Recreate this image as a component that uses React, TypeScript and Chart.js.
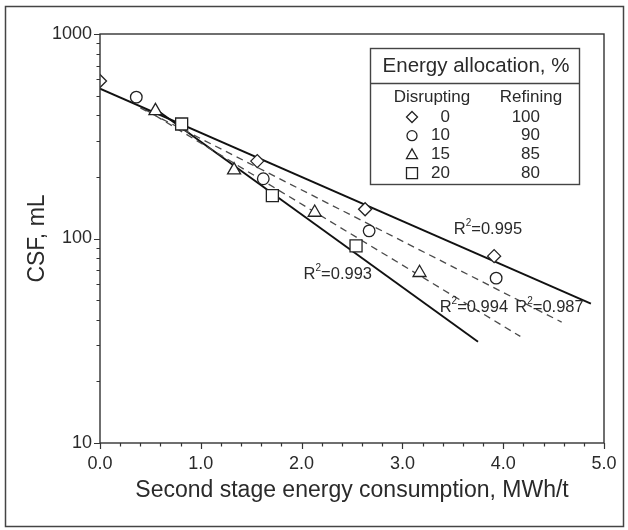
import React, { useEffect, useRef } from 'react';
import { Chart, registerables } from 'chart.js';

Chart.register(...registerables);

// ---- data ----
const disruptingLabels = ['0', '10', '15', '20'];
const refiningLabels = ['100', '90', '85', '80'];
const markerStyles = ['rectRot', 'circle', 'triangle', 'rect'];
const markerRadii = [6.5, 5.8, 7.5, 8.5];

const x0 = [0.0, 1.56, 2.63, 3.91];
const y0 = [589, 239, 139, 82];
const x10 = [0.36, 1.62, 2.67, 3.93];
const y10 = [491, 196, 109, 64];
const x15 = [0.55, 1.33, 2.13, 3.17];
const y15 = [421, 216, 134, 68];
const x20 = [0.81, 1.71, 2.54];
const y20 = [363, 162, 92];

// regression lines (end points)
const fit0X = [0.0, 4.87];
const fit0Y = [540, 48];
const fit10X = [0.4, 4.58];
const fit10Y = [435, 39];
const fit15X = [0.45, 4.17];
const fit15Y = [427, 33.2];
const fit20X = [0.55, 3.75];
const fit20Y = [430, 31.3];

// R² annotations: [x (left edge), y (middle), text]
const r2X = [3.51, 2.02, 3.37, 4.12];
const r2Y = [111, 67, 46, 46];
const r2Text = ['0.995', '0.993', '0.994', '0.987'];

const xTickValues = [0, 1, 2, 3, 4, 5];
const yTickValues = [10, 100, 1000];

const FONT = "'Liberation Sans', Arial, Helvetica, sans-serif";
const TEXT = '#2a2a2a';

const zip = (xs: number[], ys: number[]) => xs.map((x, i) => ({ x, y: ys[i] }));

function drawMarker(ctx: CanvasRenderingContext2D, style: string, x: number, y: number, r: number) {
  ctx.save();
  ctx.strokeStyle = '#222';
  ctx.lineWidth = 1.3;
  ctx.beginPath();
  if (style === 'rectRot') {
    ctx.moveTo(x, y - r);
    ctx.lineTo(x + r, y);
    ctx.lineTo(x, y + r);
    ctx.lineTo(x - r, y);
    ctx.closePath();
  } else if (style === 'circle') {
    ctx.arc(x, y, r - 0.5, 0, Math.PI * 2);
  } else if (style === 'triangle') {
    ctx.moveTo(x, y - r);
    ctx.lineTo(x + r, y + r * 0.75);
    ctx.lineTo(x - r, y + r * 0.75);
    ctx.closePath();
  } else {
    ctx.rect(x - r, y - r, 2 * r, 2 * r);
  }
  ctx.stroke();
  ctx.restore();
}

const frameAndTicks = {
  id: 'frameAndTicks',
  beforeDraw(chart: any) {
    const { ctx, width, height } = chart;
    ctx.save();
    ctx.fillStyle = '#fff';
    ctx.fillRect(0, 0, width, height);
    ctx.strokeStyle = '#444';
    ctx.lineWidth = 1.5;
    ctx.strokeRect(5.5, 6.5, 618, 520);
    ctx.restore();
  },
  afterDraw(chart: any) {
    const { ctx, chartArea: a, scales } = chart;
    const xs = scales.x;
    const ys = scales.y;
    ctx.save();
    ctx.strokeStyle = '#333';
    ctx.lineWidth = 1.4;
    ctx.strokeRect(a.left, a.top, a.right - a.left, a.bottom - a.top);
    ctx.lineWidth = 1.2;
    ctx.beginPath();
    const xMin = xTickValues[0];
    const xMax = xTickValues[xTickValues.length - 1];
    for (let i = 0; i <= (xMax - xMin) * 5; i++) {
      const v = xMin + i * 0.2;
      const px = Math.round(xs.getPixelForValue(v)) + 0.5;
      const len = i % 5 === 0 ? 6 : 3.5;
      ctx.moveTo(px, a.bottom);
      ctx.lineTo(px, a.bottom + len);
    }
    for (let d = 0; d < yTickValues.length; d++) {
      const base = yTickValues[d];
      const maxK = d === yTickValues.length - 1 ? 1 : 9;
      for (let k = 1; k <= maxK; k++) {
        const py = Math.round(ys.getPixelForValue(base * k)) + 0.5;
        const len = k === 1 ? 6 : 3.5;
        ctx.moveTo(a.left, py);
        ctx.lineTo(a.left - len, py);
      }
    }
    ctx.stroke();

    // R² annotations
    ctx.fillStyle = TEXT;
    ctx.textBaseline = 'middle';
    ctx.textAlign = 'left';
    for (let i = 0; i < r2Text.length; i++) {
      let px = xs.getPixelForValue(r2X[i]);
      const py = ys.getPixelForValue(r2Y[i]);
      ctx.font = `16.5px ${FONT}`;
      ctx.fillText('R', px, py);
      px += ctx.measureText('R').width;
      ctx.font = `10px ${FONT}`;
      ctx.fillText('2', px, py - 6);
      px += ctx.measureText('2').width;
      ctx.font = `16.5px ${FONT}`;
      ctx.fillText('=' + r2Text[i], px, py);
    }

    // legend table
    const boxW = 209;
    const boxH = 136;
    const bx = a.right - 25 - boxW;
    const by = a.top + 14;
    ctx.fillStyle = '#fff';
    ctx.fillRect(bx, by, boxW, boxH);
    ctx.strokeStyle = '#444';
    ctx.lineWidth = 1.4;
    ctx.strokeRect(bx + 0.5, by + 0.5, boxW, boxH);
    ctx.beginPath();
    ctx.moveTo(bx, by + 35.5);
    ctx.lineTo(bx + boxW, by + 35.5);
    ctx.stroke();

    ctx.fillStyle = TEXT;
    ctx.textAlign = 'center';
    ctx.font = `20.5px ${FONT}`;
    ctx.fillText('Energy allocation, %', bx + 106, by + 18);
    ctx.font = `17px ${FONT}`;
    ctx.fillText('Disrupting', bx + 62, by + 49);
    ctx.fillText('Refining', bx + 161, by + 49);
    for (let i = 0; i < disruptingLabels.length; i++) {
      const ry = by + 69 + i * 18.7;
      ctx.textAlign = 'right';
      ctx.fillText(disruptingLabels[i], bx + 80, ry);
      ctx.fillText(refiningLabels[i], bx + 170, ry);
      drawMarker(ctx, markerStyles[i], bx + 42, ry, 5.5);
    }
    ctx.restore();
  },
};

export default function App() {
  const ref = useRef<HTMLCanvasElement | null>(null);
  useEffect(() => {
    if (!ref.current) return;
    const pts = [zip(x0, y0), zip(x10, y10), zip(x15, y15), zip(x20, y20)];
    const fits = [
      { d: zip(fit0X, fit0Y), dash: [] as number[] },
      { d: zip(fit10X, fit10Y), dash: [7, 5] },
      { d: zip(fit15X, fit15Y), dash: [7, 5] },
      { d: zip(fit20X, fit20Y), dash: [] as number[] },
    ];
    const datasets: any[] = [];
    pts.forEach((d, i) => {
      datasets.push({
        label: disruptingLabels[i],
        data: d,
        showLine: false,
        pointStyle: markerStyles[i],
        pointRadius: markerRadii[i],
        pointBorderWidth: 1.3,
        pointBorderColor: '#222',
        pointBackgroundColor: '#fff',
      });
    });
    fits.forEach((f, i) => {
      const dashed = f.dash.length > 0;
      datasets.push({
        label: 'fit ' + disruptingLabels[i],
        data: f.d,
        showLine: true,
        pointRadius: 0,
        borderColor: dashed ? '#4a4a4a' : '#111',
        borderWidth: dashed ? 1.3 : 1.9,
        borderDash: f.dash,
      });
    });
    const chart = new Chart(ref.current, {
      type: 'scatter',
      data: { datasets },
      plugins: [frameAndTicks],
      options: {
        responsive: false,
        animation: false,
        layout: { padding: { left: 0, top: 34, right: 24, bottom: 0 } },
        plugins: { legend: { display: false }, tooltip: { enabled: false } },
        scales: {
          x: {
            type: 'linear',
            min: xTickValues[0],
            max: xTickValues[xTickValues.length - 1],
            afterFit: (s: any) => { s.height = 87; },
            afterBuildTicks: (s: any) => { s.ticks = xTickValues.map((v) => ({ value: v })); },
            grid: { display: false, drawTicks: false },
            border: { display: false },
            ticks: {
              padding: 10,
              color: TEXT,
              font: { family: FONT, size: 18 },
              callback: (v: any) => Number(v).toFixed(1),
              autoSkip: false,
              maxRotation: 0,
            },
            title: {
              display: true,
              text: 'Second stage energy consumption, MWh/t',
              color: TEXT,
              font: { family: FONT, size: 23 },
              padding: { top: 0, bottom: 26 },
            },
          },
          y: {
            type: 'logarithmic',
            min: yTickValues[0],
            max: yTickValues[yTickValues.length - 1],
            afterFit: (s: any) => { s.width = 100; },
            afterBuildTicks: (s: any) => { s.ticks = yTickValues.map((v) => ({ value: v })); },
            grid: { display: false, drawTicks: false },
            border: { display: false },
            ticks: {
              padding: 8,
              color: TEXT,
              font: { family: FONT, size: 18 },
              callback: (v: any) => String(v),
              autoSkip: false,
            },
            title: {
              display: true,
              text: 'CSF, mL',
              color: TEXT,
              font: { family: FONT, size: 23 },
              padding: { top: 24, bottom: 0 },
            },
          },
        },
      },
    });
    return () => chart.destroy();
  }, []);
  return (
    <div style={{ position: 'absolute', left: 0, top: 0, width: 628, height: 530 }}>
      <canvas ref={ref} width={628} height={530} style={{ display: 'block' }} />
    </div>
  );
}
